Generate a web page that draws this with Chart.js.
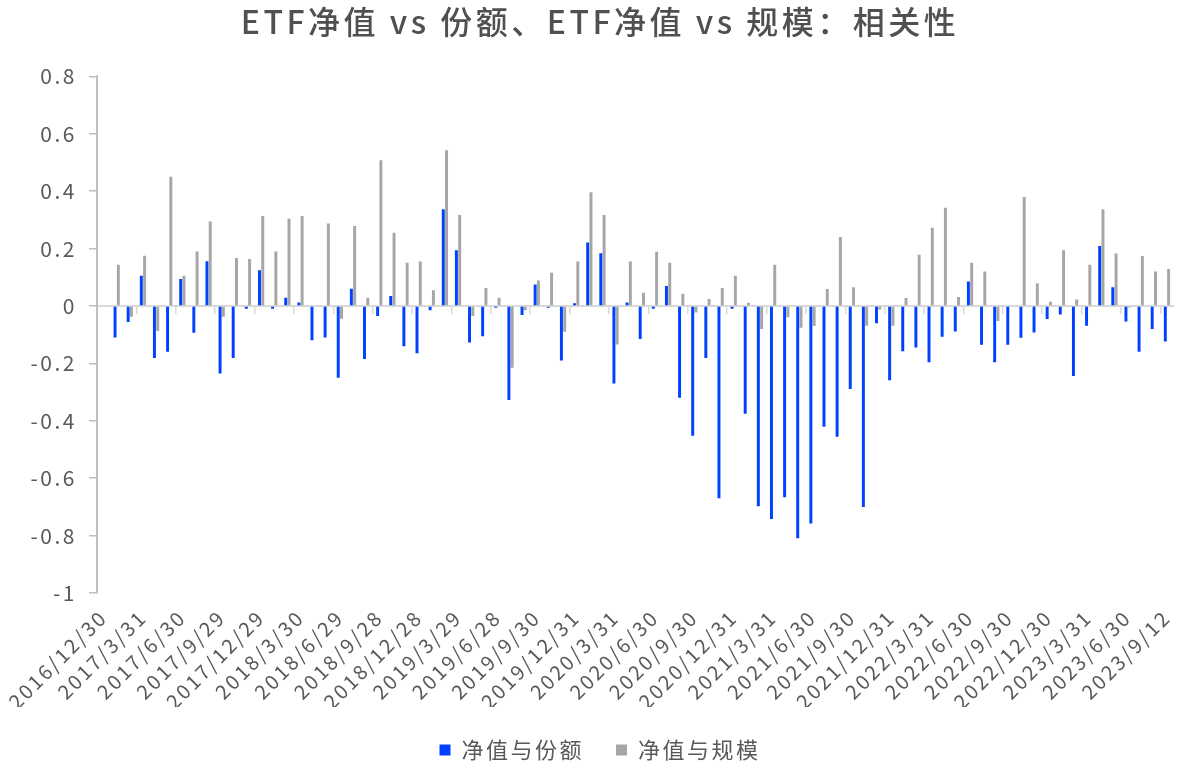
<!DOCTYPE html>
<html><head><meta charset="utf-8">
<script src="https://cdn.jsdelivr.net/npm/chart.js@4.4.0/dist/chart.umd.min.js"></script>
<style>html,body{margin:0;padding:0;background:#fff;}#wrap{width:1188px;height:771px;}</style>
</head><body><div id="wrap"><canvas id="c" width="1188" height="771"></canvas></div>
<script>
const categories = [
 '2016/12/30','2017/1/26','2017/2/28','2017/3/31','2017/4/28','2017/5/31','2017/6/30','2017/7/31','2017/8/31','2017/9/29','2017/10/31','2017/11/30',
 '2017/12/29','2018/1/31','2018/2/28','2018/3/30','2018/4/27','2018/5/31','2018/6/29','2018/7/31','2018/8/31','2018/9/28','2018/10/31','2018/11/30',
 '2018/12/28','2019/1/31','2019/2/28','2019/3/29','2019/4/30','2019/5/31','2019/6/28','2019/7/31','2019/8/30','2019/9/30','2019/10/31','2019/11/29',
 '2019/12/31','2020/1/23','2020/2/28','2020/3/31','2020/4/30','2020/5/29','2020/6/30','2020/7/31','2020/8/31','2020/9/30','2020/10/30','2020/11/30',
 '2020/12/31','2021/1/29','2021/2/26','2021/3/31','2021/4/30','2021/5/31','2021/6/30','2021/7/30','2021/8/31','2021/9/30','2021/10/29','2021/11/30',
 '2021/12/31','2022/1/28','2022/2/28','2022/3/31','2022/4/29','2022/5/31','2022/6/30','2022/7/29','2022/8/31','2022/9/30','2022/10/31','2022/11/30',
 '2022/12/30','2023/1/31','2023/2/28','2023/3/31','2023/4/28','2023/5/31','2023/6/30','2023/7/31','2023/8/31','2023/9/12'
];
// 净值与份额
const navVsShares = [null,
 -0.11,-0.056,0.105,-0.181,-0.159,0.094,-0.093,0.156,-0.235,-0.181,-0.01,0.125,-0.01,0.029,0.0125,-0.119,-0.11,-0.25,0.06,-0.185,
 -0.035,0.035,-0.14,-0.165,-0.015,0.3375,0.194,-0.1275,-0.105,-0.006,-0.3275,-0.031,0.075,-0.006,-0.19,0.01,0.221,0.184,-0.27,0.0125,
 -0.115,-0.01,0.07,-0.32,-0.4525,-0.181,-0.67,-0.01,-0.375,-0.6975,-0.7425,-0.666,-0.809,-0.7575,-0.421,-0.456,-0.289,-0.70,-0.06,-0.259,-0.1575,
 -0.145,-0.196,-0.1075,-0.089,0.085,-0.135,-0.196,-0.135,-0.111,-0.0925,-0.045,-0.03,-0.244,-0.069,0.209,0.065,-0.054,-0.159,-0.08,-0.124
];
// 净值与规模
const navVsSize = [null,
 0.144,-0.0375,0.175,-0.0875,0.45,0.105,0.19,0.294,-0.0375,0.1675,0.164,0.314,0.19,0.304,0.314,0,0.2875,-0.044,0.279,0.029,
 0.5075,0.255,0.151,0.155,0.055,0.5425,0.3175,-0.035,0.0625,0.029,-0.215,-0.015,0.089,0.116,-0.09,0.155,0.396,0.3175,-0.134,0.155,
 0.046,0.189,0.151,0.0425,-0.0225,0.024,0.0625,0.105,0.011,-0.08,0.144,-0.039,-0.076,-0.07,0.059,0.24,0.065,-0.069,-0.0125,-0.069,0.0275,
 0.179,0.2725,0.3425,0.031,0.151,0.12,-0.0525,0,0.38,0.079,0.015,0.194,0.0225,0.144,0.3375,0.1825,-0.005,0.174,0.12,0.129
];
const seriesNames = ['净值与份额','净值与规模'];
const titleText = 'ETF净值 vs 份额、ETF净值 vs 规模：相关性';
const yMin = -1, yMax = 0.8, yStep = 0.2;
const labelEvery = 3;

const FONT = "'Noto Sans CJK SC', 'Noto Sans', sans-serif";
const TXT = '#595959';

const spacingPlugin = {
  id: 'spacing',
  beforeUpdate(chart){ chart.ctx.letterSpacing = '2.5px'; },
  beforeDraw(chart){
    chart.ctx.letterSpacing = '2.5px';
    const tb = chart.titleBlock;
    if (tb && !tb._patched){
      const d = tb.draw.bind(tb);
      tb.draw = function(){ const c = chart.ctx; c.save(); c.letterSpacing = '3.5px'; d(); c.restore(); };
      tb._patched = true;
    }
  }
};

new Chart(document.getElementById('c'), {
  type: 'bar',
  data: {
    labels: categories,
    datasets: [
      {label: seriesNames[0], data: navVsShares, backgroundColor: '#0040FF', categoryPercentage: 0.5, barPercentage: 0.9},
      {label: seriesNames[1], data: navVsSize, backgroundColor: '#A6A6A6', categoryPercentage: 0.5, barPercentage: 0.9}
    ]
  },
  options: {
    responsive: false,
    animation: false,
    devicePixelRatio: 1,
    layout: {padding: {left: 12, right: 0, top: 0, bottom: 0}},
    plugins: {
      title: {display: true, text: titleText, color: '#505050', font: {family: FONT, size: 32, weight: 500}, padding: {top: 3, bottom: 35}},
      legend: {position: 'bottom', labels: {color: TXT, font: {family: FONT, size: 22}, boxWidth: 11, boxHeight: 11, padding: 32}},
      tooltip: {enabled: false}
    },
    scales: {
      x: {
        offset: true,
        grid: {display: false},
        border: {display: false},
        ticks: {
          autoSkip: false, maxRotation: 45, minRotation: 45, padding: 4,
          color: TXT, font: {family: FONT, size: 20},
          callback: (v, i) => (i % labelEvery === 0 ? categories[i] : '')
        },
        afterFit: s => { s.height = 114; }
      },
      x2: {
        type: 'category',
        position: {y: 0},
        offset: true,
        ticks: {display: false},
        grid: {
          offset: true, drawOnChartArea: false, tickLength: 7, lineWidth: 1.5,
          color: ctx => (ctx.index > 0 && ctx.index % labelEvery === 0 ? '#D9D9D9' : 'rgba(0,0,0,0)')
        },
        border: {display: true, color: '#D9D9D9', width: 2}
      },
      y: {
        min: yMin, max: yMax,
        ticks: {
          stepSize: yStep, padding: 12, color: TXT, font: {family: FONT, size: 21},
          callback: v => String(Math.round(v * 10) / 10)
        },
        grid: {drawOnChartArea: false, tickLength: 8, tickColor: '#BFBFBF', color: '#BFBFBF', lineWidth: 1.5},
        border: {display: true, color: '#BFBFBF', width: 2},
        afterFit: s => { s.width = 85; }
      },
      yRight: {
        position: 'right',
        min: yMin, max: yMax,
        ticks: {display: false},
        grid: {display: false},
        border: {display: false},
        afterFit: s => { s.width = 11; }
      }
    }
  },
  plugins: [spacingPlugin]
});
</script>
</body></html>
